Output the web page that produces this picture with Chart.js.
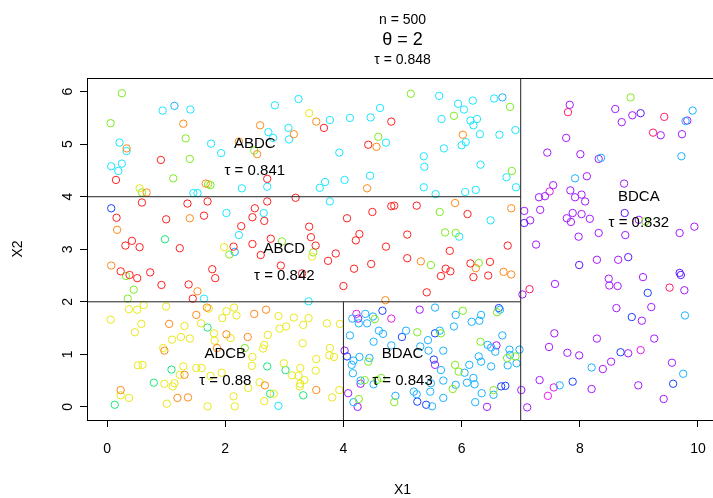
<!DOCTYPE html>
<html>
<head>
<meta charset="utf-8">
<script src="https://cdn.jsdelivr.net/npm/chart.js@4/dist/chart.umd.min.js"></script>
<style>
  body { margin: 0; background: #fff; }
  #wrap { width: 713px; height: 498px; }
</style>
</head>
<body>
<div id="wrap"><canvas id="chart"></canvas></div>
<script>
// axis range and ticks
const xMin = -0.34, xMax = 10.17;
const yMin = -0.25, yMax = 6.26;
const xTicks = [0, 2, 4, 6, 8, 10];
const yTicks = [0, 1, 2, 3, 4, 5, 6];

// titles
const titleLines = ['n = 500', 'θ = 2', 'τ = 0.848'];

// partition labels
const regionNames = ['ABDC', 'ABCD', 'ADCB', 'BDAC', 'BDCA'];
const regionTaus = ['0.841', '0.842', '0.88', '0.843', '0.832'];
const regionX = [2.5, 3.0, 2.0, 5.0, 9.0];
const regionY = [5.0, 3.0, 1.0, 1.0, 4.0];

// split lines [x1, y1, x2, y2]
const splits = [
  [7, yMin, 7, yMax],
  [xMin, 4, 7, 4],
  [xMin, 2, 7, 2],
  [4, yMin, 4, 2]
];

// points, grouped by colour
const redPts = [[0.91,4.70],[0.15,4.32],[3.67,5.31],[4.81,5.43],[4.42,4.99],[2.71,4.34],[3.19,3.98],
  [0.59,3.89],[0.16,3.60],[1.0,3.57],[1.36,3.87],[1.70,3.91],[1.64,3.64],[2.27,3.44],[0.42,3.16],[0.31,3.07],
  [0.55,3.04],[1.23,3.02],[2.14,3.05],[0.23,2.58],[0.38,2.51],[0.51,2.45],[0.73,2.56],[1.78,2.62],[1.83,2.45],
  [0.92,2.32],[1.38,2.33],[1.45,2.06],[2.71,3.91],[2.50,3.78],[2.46,3.61],[2.66,3.54],[3.42,3.43],[3.45,3.23],
  [2.77,3.20],[3.53,3.07],[2.46,3.10],[2.60,2.89],[3.87,2.92],[3.74,2.78],[2.94,2.69],[3.30,2.54],[4.06,3.59],
  [4.49,3.71],[4.81,3.82],[4.86,3.83],[4.27,3.29],[4.21,3.17],[4.72,3.05],[4.18,2.63],[4.47,2.72],[4.0,2.30],
  [5.24,3.83],[6.10,3.67],[5.08,3.28],[6.78,3.07],[5.80,2.97],[5.08,2.83],[5.73,2.63],[5.81,2.58],[5.65,2.49],
  [6.15,2.73],[6.48,2.76],[6.20,2.47],[6.45,2.50],[5.41,2.18]];
const orangePts = [[1.29,5.39],[0.33,4.92],[1.67,4.25],[0.67,4.08],[2.23,5.05],[3.54,5.43],[2.59,5.36],[3.16,5.19],
  [4.56,4.95],[2.54,4.81],[4.40,4.16],[6.02,5.18],[0.17,3.37],[1.40,3.59],[0.07,2.69],[1.53,2.20],[4.71,2.03],
  [5.89,3.88],[6.84,3.78],[5.31,2.77],[6.24,2.64],[6.71,2.57],[6.84,2.52],[1.69,1.89],[1.05,1.58],[1.51,1.75],
  [2.02,1.38],[0.97,1.07],[1.86,1.12],[1.31,0.61],[0.23,0.32],[1.19,0.17],[1.37,0.18],[2.49,1.77],[2.69,1.85],
  [2.38,1.33],[2.67,0.41],[3.54,0.32]];
const yellowPts = [[3.42,5.59],[0.55,4.16],[1.98,3.04],[3.47,2.86],[0.37,1.86],[0.51,1.85],[0.62,1.94],[1.0,1.91],
  [1.72,1.87],[0.06,1.66],[0.58,1.58],[0.47,1.42],[1.31,1.54],[1.59,1.59],[1.81,1.40],[1.82,1.26],[1.95,1.69],
  [2.02,1.82],[2.15,1.89],[2.19,1.74],[2.09,1.31],[1.10,1.28],[1.25,1.33],[1.40,1.30],[0.95,1.12],[0.52,0.79],
  [0.60,0.80],[1.29,0.77],[1.51,0.74],[1.60,0.74],[1.23,0.61],[1.75,0.59],[1.94,0.65],[0.97,0.44],[1.14,0.45],
  [1.11,0.39],[0.23,0.22],[0.37,0.17],[1.01,0.06],[1.70,0.01],[2.14,0.20],[2.16,0.01],[2.90,1.73],[3.16,1.70],
  [3.41,1.69],[3.32,1.56],[3.03,1.53],[2.92,1.49],[3.72,1.59],[3.94,1.58],[2.72,1.37],[2.66,1.18],[2.64,1.11],
  [3.31,1.21],[3.77,1.12],[3.76,0.98],[3.84,0.95],[3.54,0.91],[2.46,0.95],[2.45,0.78],[2.99,0.83],[3.27,0.74],
  [3.13,0.60],[3.24,0.59],[3.34,0.51],[3.27,0.44],[3.26,0.39],[3.53,0.69],[2.58,0.47],[3.93,0.32],[3.81,0.18],
  [2.66,0.11],[2.39,0.36],[2.82,0.25]];
const greenPts = [[0.25,5.97],[0.06,5.40],[1.33,5.11],[1.40,4.72],[1.12,4.35],[0.59,4.08],[1.71,4.24],[1.75,4.22],
  [4.59,5.14],[2.49,4.88],[5.14,5.96],[5.87,5.54],[6.82,5.71],[6.85,4.49],[8.86,5.89],[9.11,3.53],[2.07,2.90],
  [0.32,2.49],[0.45,2.23],[0.35,2.06],[2.96,3.15],[3.49,2.94],[5.63,3.71],[5.72,3.32],[5.90,3.31],[5.48,2.70],
  [6.29,2.74],[2.33,1.12],[4.53,1.67],[4.42,0.86],[4.36,0.51],[4.64,0.55],[4.57,0.51],[4.26,0.15],[4.86,0.09],
  [6.02,1.83],[6.60,1.80],[5.25,1.42],[5.65,1.40],[6.32,1.24],[6.77,0.93],[6.91,0.96],[5.89,0.80],[5.95,0.67],
  [5.85,0.34],[6.54,0.32]];
const springPts = [[0.98,3.19],[1.70,1.51],[1.09,0.71],[0.79,0.46],[0.13,0.04],[2.71,0.77],[3.02,0.70],[3.32,0.22],[2.76,0.25]];
const cyanPts = [[0.94,5.64],[1.41,5.66],[0.21,5.03],[0.33,4.87],[1.76,5.01],[1.93,4.83],[0.07,4.58],[0.25,4.63],
  [0.19,4.49],[1.46,4.07],[1.53,4.07],[2.28,4.16],[2.84,5.74],[3.24,5.86],[3.77,5.46],[4.11,5.50],[4.46,5.51],
  [4.62,5.69],[2.73,5.23],[2.81,5.12],[3.07,5.31],[3.08,5.09],[4.72,5.03],[3.93,4.84],[2.71,4.19],[3.60,4.17],
  [3.69,4.28],[4.02,4.32],[4.45,4.40],[5.62,5.92],[5.94,5.77],[6.04,5.66],[6.19,5.83],[6.55,5.87],[5.66,5.48],
  [6.15,5.45],[6.26,5.48],[6.20,5.36],[6.0,4.98],[6.07,5.04],[6.31,5.19],[6.64,5.18],[6.91,5.27],[5.70,4.92],
  [5.36,4.77],[5.37,4.57],[6.32,4.61],[6.76,4.37],[5.36,4.18],[5.56,4.05],[6.06,4.09],[6.24,4.13],[6.92,4.18],
  [2.02,3.69],[2.23,3.27],[1.64,2.06],[3.77,3.91],[2.65,3.69],[3.41,2.01],[6.49,3.55],[5.96,3.24],[2.90,0.02]];
const azurePts = [[1.14,5.73],[6.69,5.89],[2.16,2.95],[9.91,5.64],[9.79,5.44],[9.72,4.77],[8.36,4.74],[7.92,4.35],
  [9.78,1.74],[8.20,0.75],[9.75,0.63],[7.66,0.41],[4.15,1.68],[4.37,1.77],[4.50,1.72],[4.26,1.59],[4.40,1.59],
  [4.60,1.45],[4.67,1.39],[4.11,1.36],[4.51,1.24],[4.81,1.17],[4.27,0.95],[4.17,0.88],[4.14,0.80],[4.16,0.64],
  [4.44,0.93],[4.29,0.50],[4.51,0.43],[4.17,0.09],[4.88,0.21],[5.55,1.89],[5.90,1.75],[6.33,1.75],[6.30,1.64],
  [6.17,1.62],[6.65,1.85],[5.87,1.53],[5.06,1.45],[5.63,1.45],[6.69,1.36],[5.43,1.27],[5.30,1.15],[5.44,1.07],
  [5.69,1.07],[6.44,1.18],[6.50,1.13],[6.57,1.05],[6.81,1.09],[6.98,1.09],[6.82,0.99],[6.93,0.83],[6.78,0.79],
  [6.29,0.96],[6.33,0.86],[6.50,0.77],[6.13,0.80],[6.05,0.65],[5.65,0.70],[5.69,0.50],[5.48,0.45],[5.90,0.42],
  [6.09,0.46],[6.20,0.55],[6.22,0.43],[5.47,0.29],[5.19,0.29],[5.24,0.24],[5.50,0.01],[6.34,0.26],[6.54,0.23],
  [6.23,0.09],[5.69,0.17]];
const bluePts = [[0.07,3.78],[4.66,1.83],[4.99,1.33],[4.06,0.96],[6.63,1.88],[5.55,1.40],[5.53,0.90],[5.25,0.10],
  [5.40,0.04],[6.67,0.39],[6.74,0.40],[8.88,1.71],[8.69,1.04],[7.88,0.48],[9.58,0.44],[9.15,2.17]];
const indigoPts = [[9.03,5.59],[8.76,3.69],[7.99,2.70],[8.82,2.85],[9.69,2.55],[9.71,2.51],[7.06,3.50]];
const purplePts = [[7.45,4.84],[7.55,4.22],[7.31,3.99],[7.41,4.01],[7.77,5.12],[7.83,5.75],[8.60,5.67],[8.71,5.42],
  [8.89,5.55],[9.82,5.45],[9.37,5.17],[9.73,5.19],[8.01,4.81],[8.32,4.72],[8.12,4.39],[8.75,4.25],[7.84,4.12],
  [8.03,4.04],[7.92,3.99],[8.09,3.91],[7.88,3.69],[8.03,3.67],[8.17,3.58],[7.78,3.59],[7.85,3.52],[9.0,3.56],
  [8.32,3.31],[7.98,3.24],[8.77,3.27],[9.69,3.31],[9.94,3.43],[8.29,2.80],[8.65,2.80],[9.07,2.47],[8.49,2.44],
  [8.50,2.31],[8.64,2.30],[9.77,2.22],[8.62,1.88],[9.21,1.90],[7.06,3.73],[7.33,3.75],[7.16,3.55],[7.26,3.09],
  [7.58,2.34],[7.03,2.14],[4.25,1.68],[4.02,1.07],[4.29,0.44],[4.08,0.26],[4.24,0.0],[5.29,1.85],[6.59,1.17],
  [5.55,0.80],[6.43,0.0],[7.01,0.32],[7.11,-0.01],[7.32,0.51],[7.57,1.40],[7.48,1.14],[9.05,1.64],[8.29,1.30],
  [9.26,1.30],[7.79,1.03],[7.99,0.98],[8.82,1.02],[8.53,0.86],[8.39,0.72],[9.56,0.84],[8.20,0.34],[8.99,0.41],
  [9.42,0.15]];
const magentaPts = [[7.49,4.10],[4.22,1.77],[4.81,1.68],[7.46,0.21],[7.56,0.37],[9.03,1.08]];
const rosePts = [[7.80,5.61],[9.43,5.52],[9.24,5.22],[9.52,2.27],[7.15,2.24]];

const groups = [
  [redPts, '#FF2020'], [orangePts, '#FF8A1A'], [yellowPts, '#E8E81A'], [greenPts, '#80EA20'],
  [springPts, '#1AE67A'], [cyanPts, '#1AE6FF'], [azurePts, '#1AB2FF'], [bluePts, '#1A40FF'],
  [indigoPts, '#5A1AFF'], [purplePts, '#A31AFF'], [magentaPts, '#E61AE6'], [rosePts, '#FF1A6A']
];

const FONT = "'Liberation Sans', Arial, sans-serif";

const datasets = groups.map(([pts, col]) => ({
  type: 'scatter',
  data: pts.map(p => ({ x: p[0], y: p[1] })),
  borderColor: col,
  backgroundColor: 'rgba(0,0,0,0)',
  borderWidth: 1,
  pointRadius: 3.7,
  order: 1
}));

splits.forEach(s => {
  datasets.push({
    type: 'line',
    data: [{ x: s[0], y: s[1] }, { x: s[2], y: s[3] }],
    borderColor: '#222',
    borderWidth: 1,
    pointRadius: 0,
    fill: false,
    order: -1
  });
});

// box, titles, region labels
const extras = {
  id: 'extras',
  afterDraw(chart) {
    const { ctx, chartArea: a, scales } = chart;
    const cx = scales.x.getPixelForValue(5);
    ctx.save();
    ctx.strokeStyle = '#000';
    ctx.lineWidth = 1;
    // right edge of the box lies just past the canvas
    ctx.strokeRect(a.left + 0.5, a.top + 0.5, 713 - a.left + 4, a.bottom - a.top);

    ctx.fillStyle = '#000';
    ctx.textAlign = 'center';
    ctx.textBaseline = 'middle';
    ctx.font = '14px ' + FONT;
    ctx.fillText(titleLines[0], cx, 20);
    ctx.font = '18px ' + FONT;
    ctx.fillText(titleLines[1], cx, 40);
    ctx.font = '14px ' + FONT;
    ctx.fillText(titleLines[2], cx, 60);

    ctx.font = '14px ' + FONT;
    ctx.fillText('X1', cx, 490);
    ctx.save();
    ctx.translate(18, (a.top + a.bottom) / 2);
    ctx.rotate(-Math.PI / 2);
    ctx.fillText('X2', 0, 0);
    ctx.restore();

    ctx.font = '15px ' + FONT;
    regionNames.forEach((name, i) => {
      const px = scales.x.getPixelForValue(regionX[i]);
      ctx.fillText(name, px, scales.y.getPixelForValue(regionY[i]));
      ctx.fillText('τ = ' + regionTaus[i], px, scales.y.getPixelForValue(regionY[i] - 0.5));
    });
    ctx.restore();
  }
};

new Chart(document.getElementById('chart'), {
  data: { datasets },
  options: {
    responsive: true,
    maintainAspectRatio: false,
    animation: false,
    layout: { padding: { left: 0, top: 78, right: 0, bottom: 0 } },
    plugins: { legend: { display: false }, tooltip: { enabled: false }, title: { display: false } },
    scales: {
      x: {
        type: 'linear',
        min: xMin,
        max: xMax,
        afterBuildTicks: s => { s.ticks = xTicks.map(v => ({ value: v })); },
        afterFit: s => { s.height = 78; s.paddingLeft = 0; s.paddingRight = 0; },
        grid: { drawOnChartArea: false, drawTicks: true, tickLength: 7, color: '#000' },
        border: { display: true, color: '#000' },
        ticks: { color: '#000', font: { family: FONT, size: 14 }, padding: 14, maxRotation: 0, autoSkip: false }
      },
      y: {
        type: 'linear',
        min: yMin,
        max: yMax,
        afterBuildTicks: s => { s.ticks = yTicks.map(v => ({ value: v })); },
        afterFit: s => { s.width = 87; s.paddingTop = 0; s.paddingBottom = 0; },
        grid: { drawOnChartArea: false, drawTicks: true, tickLength: 7, color: '#000' },
        border: { display: true, color: '#000' },
        ticks: { color: '#000', font: { family: FONT, size: 14 }, padding: 8, minRotation: 90, maxRotation: 90, crossAlign: 'center', autoSkip: false }
      }
    }
  },
  plugins: [extras]
});
</script>
</body>
</html>
